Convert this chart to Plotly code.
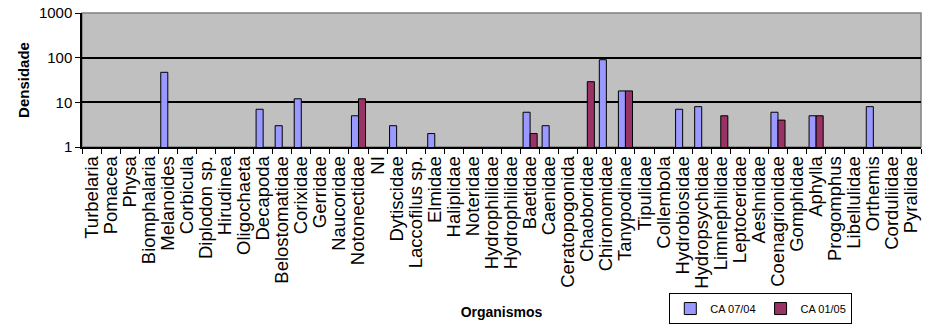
import plotly.graph_objects as go

organismos = ["Turbelaria", "Pomacea", "Physa", "Biomphalaria", "Melanoides", "Corbicula",
              "Diplodon sp.", "Hirudinea", "Oligochaeta", "Decapoda", "Belostomatidae",
              "Corixidae", "Gerridae", "Naucoridae", "Notonectidae", "NI", "Dytiscidae",
              "Laccofilus sp.", "Elmidae", "Haliplidae", "Noteridae", "Hydrophilidae",
              "Hydrophilidae", "Baetidae", "Caenidae", "Ceratopogonida", "Chaoboridae",
              "Chironomidae", "Tanypodinae", "Tipulidae", "Collembola", "Hydrobiosidae",
              "Hydropsychidae", "Limnephilidae", "Leptoceridae", "Aeshnidae",
              "Coenagrionidae", "Gomphidae", "Aphylla", "Progomphus", "Libellulidae",
              "Orthemis", "Corduliidae", "Pyralidae"]

ca_0704 = [None, None, None, None, 47, None, None, None, None, 7, 3, 12, None, None, 5,
           None, 3, None, 2, None, None, None, None, 6, 3, None, None, 90, 18, None, None,
           7, 8, None, None, None, 6, None, 5, None, None, 8, None, None]

ca_0105 = [None, None, None, None, None, None, None, None, None, None, None, None, None,
           None, 12, None, None, None, None, None, None, None, None, 2, None, None, 29,
           None, 18, None, None, None, None, 5, None, None, 4, None, 5, None, None, None,
           None, None]

y_ticks = [1, 10, 100, 1000]
y_ticktext = ["1", "10", "100", "1000"]

idx = [str(i) for i in range(len(organismos))]
FONT = "Liberation Sans, Arial, sans-serif"

fig = go.Figure()
fig.add_trace(go.Bar(x=idx, y=ca_0704, name="CA 07/04",
                     marker=dict(color="#9999FF", line=dict(color="#000000", width=1))))
fig.add_trace(go.Bar(x=idx, y=ca_0105, name="CA 01/05",
                     marker=dict(color="#993366", line=dict(color="#000000", width=1))))

fig.update_layout(
    width=928, height=332,
    margin=dict(l=82, r=7, t=13, b=179),
    paper_bgcolor="#FFFFFF", plot_bgcolor="#C0C0C0",
    barmode="group", bargap=0.26, bargroupgap=0,
    font=dict(family=FONT, color="#000000"),
    showlegend=True,
    legend=dict(orientation="h", x=0.70, y=-1.09, xanchor="left", yanchor="top",
                bordercolor="#000000", borderwidth=1, bgcolor="#FFFFFF",
                font=dict(size=11, family=FONT), itemwidth=30,
                tracegroupgap=0),
    xaxis=dict(type="category", tickmode="array", tickvals=idx, ticktext=organismos,
               tickangle=-90, tickson="boundaries", ticks="outside", ticklen=5,
               tickcolor="#000000", showline=True, linecolor="#000000", linewidth=1.5,
               showgrid=False, automargin=False,
               tickfont=dict(size=18.5, family=FONT, color="#000000"),
               title=dict(text="<b>Organismos</b>", font=dict(size=14, family=FONT),
                          standoff=19)),
    yaxis=dict(type="log", range=[0, 3], tickmode="array", tickvals=y_ticks,
               ticktext=y_ticktext, ticks="outside", ticklen=5, tickcolor="#000000",
               showline=True, linecolor="#000000", linewidth=1.5,
               showgrid=True, gridcolor="#000000", gridwidth=2, automargin=False,
               zeroline=False,
               tickfont=dict(size=15, family=FONT, color="#000000"),
               title=dict(text="<b>Densidade</b>", font=dict(size=15, family=FONT),
                          standoff=6)),
    shapes=[dict(type="rect", xref="paper", yref="paper", x0=0, x1=1, y0=0, y1=1,
                 line=dict(color="#808080", width=1.5), layer="below")],
)

fig.write_html("out.html")
